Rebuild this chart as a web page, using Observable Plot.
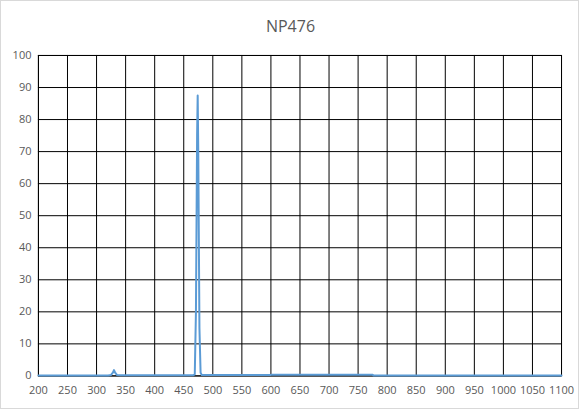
<!DOCTYPE html>
<html>
<head>
<meta charset="utf-8">
<script src="https://cdn.jsdelivr.net/npm/d3@7"></script>
<script src="https://cdn.jsdelivr.net/npm/@observablehq/plot@0.6"></script>
<style>
  html, body { margin: 0; padding: 0; background: #fff; }
  #chart { width: 579px; height: 409px; box-sizing: border-box; border: 1px solid #d9d9d9; position: relative; overflow: hidden; background: #fff; }
  #title { position: absolute; left: 0; top: 0; width: 579px; text-align: center; font-family: "Open Sans", sans-serif; font-size: 16px; color: #595959; line-height: 20px; padding-top: 15px; }
  #plot { position: absolute; left: -1px; top: 39px; }
</style>
</head>
<body>
<div id="chart"><div id="title">NP476</div><div id="plot"></div></div>
<script>
const title = "NP476";
const wavelength = [200, 320, 325, 328, 330, 332, 335, 340, 466, 469, 471, 473, 474, 475, 477, 479, 481, 600, 601, 775, 776, 1100];
const transmission = [0.1, 0.1, 0.3, 1.0, 1.8, 1.0, 0.3, 0.2, 0.2, 0.5, 20, 75, 87.5, 70, 15, 1.0, 0.3, 0.3, 0.4, 0.4, 0.1, 0.1];
const xTicks = [200, 250, 300, 350, 400, 450, 500, 550, 600, 650, 700, 750, 800, 850, 900, 950, 1000, 1050, 1100];
const yTicks = [0, 10, 20, 30, 40, 50, 60, 70, 80, 90, 100];

const data = wavelength.map((w, i) => ({w, t: transmission[i]}));
const fmt = d => String(d);

const chart = Plot.plot({
  width: 579,
  height: 370,
  marginLeft: 38,
  marginRight: 17,
  marginTop: 15,
  marginBottom: 34,
  style: {fontFamily: "'Open Sans', sans-serif", fontSize: "11px", color: "#595959", background: "#fff"},
  x: {domain: [200, 1100], ticks: xTicks, tickFormat: fmt, tickSize: 0, tickPadding: 10, label: null},
  y: {domain: [0, 100], ticks: yTicks, tickFormat: fmt, tickSize: 0, tickPadding: 7, label: null},
  marks: [
    Plot.gridX(xTicks, {stroke: "#000", strokeOpacity: 1, strokeWidth: 1}),
    Plot.gridY(yTicks, {stroke: "#000", strokeOpacity: 1, strokeWidth: 1}),
    Plot.frame({stroke: "#000", strokeWidth: 1}),
    Plot.line(data, {x: "w", y: "t", stroke: "#5B9BD5", strokeWidth: 2, strokeLinejoin: "round"}),
    Plot.axisX(xTicks, {tickSize: 0, tickPadding: 10, tickFormat: fmt, fill: "#595959"}),
    Plot.axisY(yTicks, {tickSize: 0, tickPadding: 7, tickFormat: fmt, fill: "#595959"})
  ]
});
document.getElementById("plot").appendChild(chart);
</script>
</body>
</html>
